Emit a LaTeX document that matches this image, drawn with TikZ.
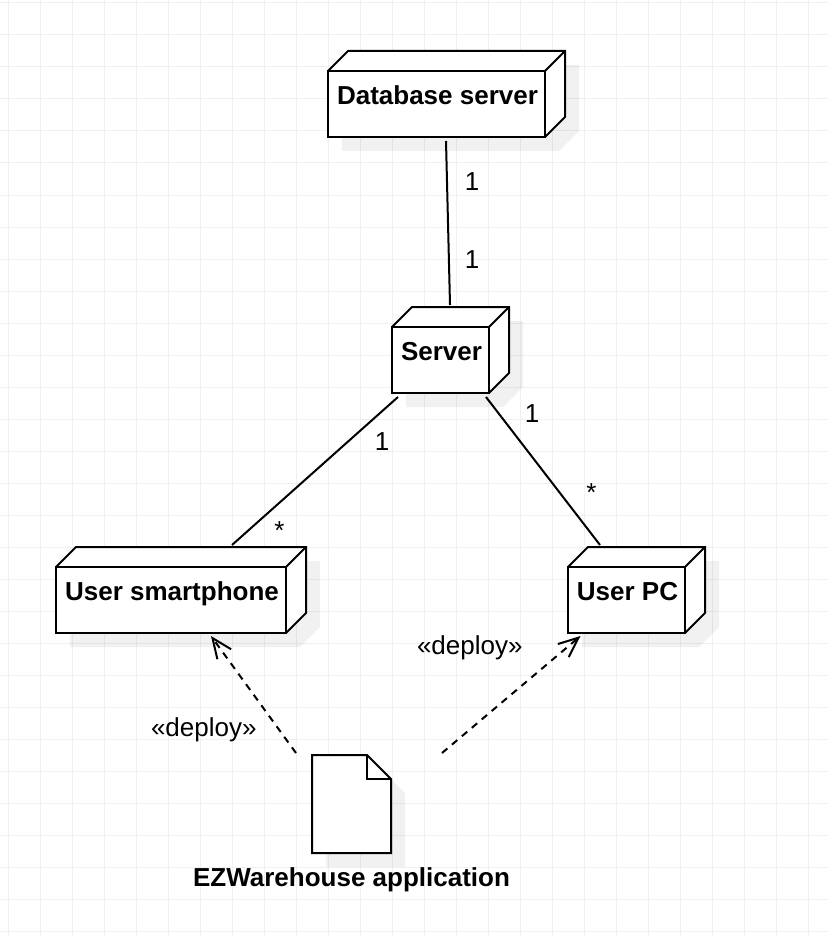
\documentclass[tikz,border=0pt]{standalone}
\usepackage{fontspec}
\setmainfont{Liberation Sans}
\usetikzlibrary{arrows.meta,backgrounds,calc}
\definecolor{gridgray}{HTML}{F0F0F0}
\tikzset{
  umlnode/.style={draw, line width=2pt, outer sep=0pt, inner sep=0pt, anchor=north west,
    minimum height=66pt, text height=33.5pt, text depth=32.5pt, font=\fontsize{26}{30}\selectfont\bfseries,
    execute at begin node=\hspace*{2pt}},
  umlline/.style={line width=2pt, line join=miter},
  assoc/.style={line width=2pt},
  deploy/.style={line width=2pt, dash pattern=on 7pt off 6pt, -{Straight Barb[length=20pt,width=17pt,line width=2pt]}},
  lbl/.style={anchor=base, inner sep=0pt, font=\fontsize{26}{30}\selectfont},
  shadowfill/.style={fill=black, fill opacity=0.055, transform canvas={xshift=14pt,yshift=-14pt}}
}
\begin{document}
\begin{tikzpicture}[x=1pt,y=-1pt]
\useasboundingbox (0,0) rectangle (828,936);

% Nodes
\node[umlnode, minimum width=217pt] (dbserver) at (328,71) {Database server};
\node[umlnode, minimum width=97pt] (server) at (392,327) {Server};
\node[umlnode, minimum width=230pt] (smartphone) at (56,567) {User smartphone};
\node[umlnode, minimum width=117pt] (userpc) at (568,567) {User PC};
\node[anchor=north west, inner sep=0pt, outer sep=0pt, minimum width=79pt, minimum height=98pt] (appdoc) at (312,755) {};

% Grid and shadows
\begin{pgfonlayer}{background}
\fill[white] (0,0) rectangle (828,936);
\foreach \gx in {0,...,25} \draw[gridgray, line width=1pt] ({8+32*\gx},0) -- ({8+32*\gx},936);
\foreach \gy in {0,...,29} \draw[gridgray, line width=1pt] (0,{3+32*\gy}) -- (828,{3+32*\gy});
\foreach \nm in {dbserver,server,smartphone,userpc} {
  \fill[shadowfill] (\nm.north west) -- ++(20,-20) -- ($(\nm.north east)+(20,-20)$) -- ($(\nm.south east)+(20,-20)$) -- (\nm.south east) -- (\nm.south west) -- cycle;
  \fill[white] (\nm.north west) -- ++(20,-20) -- ($(\nm.north east)+(20,-20)$) -- ($(\nm.south east)+(20,-20)$) -- (\nm.south east) -- (\nm.south west) -- cycle;
}
\fill[shadowfill] (appdoc.north west) -- ++(55,0) -- ++(24,24) -- (appdoc.south east) -- (appdoc.south west) -- cycle;
\fill[white] (appdoc.north west) -- ++(55,0) -- ++(24,24) -- (appdoc.south east) -- (appdoc.south west) -- cycle;
\end{pgfonlayer}

% Depth of the boxes
\foreach \nm in {dbserver,server,smartphone,userpc} {
  \draw[umlline] (\nm.north west) -- ++(20,-20) -- ($(\nm.north east)+(20,-20)$) -- ($(\nm.south east)+(20,-20)$) -- (\nm.south east);
  \draw[umlline] (\nm.north east) -- ++(20,-20);
}

% Document
\draw[umlline] (appdoc.north west) -- ++(55,0) -- ++(24,24) -- (appdoc.south east) -- (appdoc.south west) -- cycle;
\draw[umlline] ($(appdoc.north west)+(55,0)$) -- ++(0,24) -- ++(24,0);
\node[lbl, font=\fontsize{26}{30}\selectfont\bfseries] (applabel) at (351.5,886) {EZWarehouse application};

% Associations
\draw[assoc] ([xshift=9.5pt,yshift=-4pt]dbserver.south) -- ([xshift=9.5pt,yshift=22pt]server.north);
\draw[assoc] ([xshift=6pt,yshift=-4pt]server.south west) -- ([xshift=61pt,yshift=22pt]smartphone.north);
\draw[assoc] ([xshift=-3pt,yshift=-4pt]server.south east) -- ([xshift=-26.5pt,yshift=22pt]userpc.north);

% Deployments
\draw[deploy] ([xshift=-16pt,yshift=2pt]appdoc.north west) -- ([xshift=40pt,yshift=-3pt]smartphone.south);
\draw[deploy] ([xshift=51pt,yshift=2pt]appdoc.north east) -- ([xshift=12.5pt,yshift=-3pt]userpc.south west);

% Multiplicities
\node[lbl] (dbone) at (472,190) {1};
\node[lbl] (srvone) at (472,268) {1};
\node[lbl] (srvleft) at (382,450) {1};
\node[lbl] (srvright) at (532,422) {1};
\node[lbl] (smartmany) at (279.5,539.5) {*};
\node[lbl] (pcmany) at (591.5,501.5) {*};

% Deploy labels
\node[lbl] (deployleft) at (203.8,736) {«deploy»};
\node[lbl] (deployright) at (469.8,654) {«deploy»};
\end{tikzpicture}
\end{document}
